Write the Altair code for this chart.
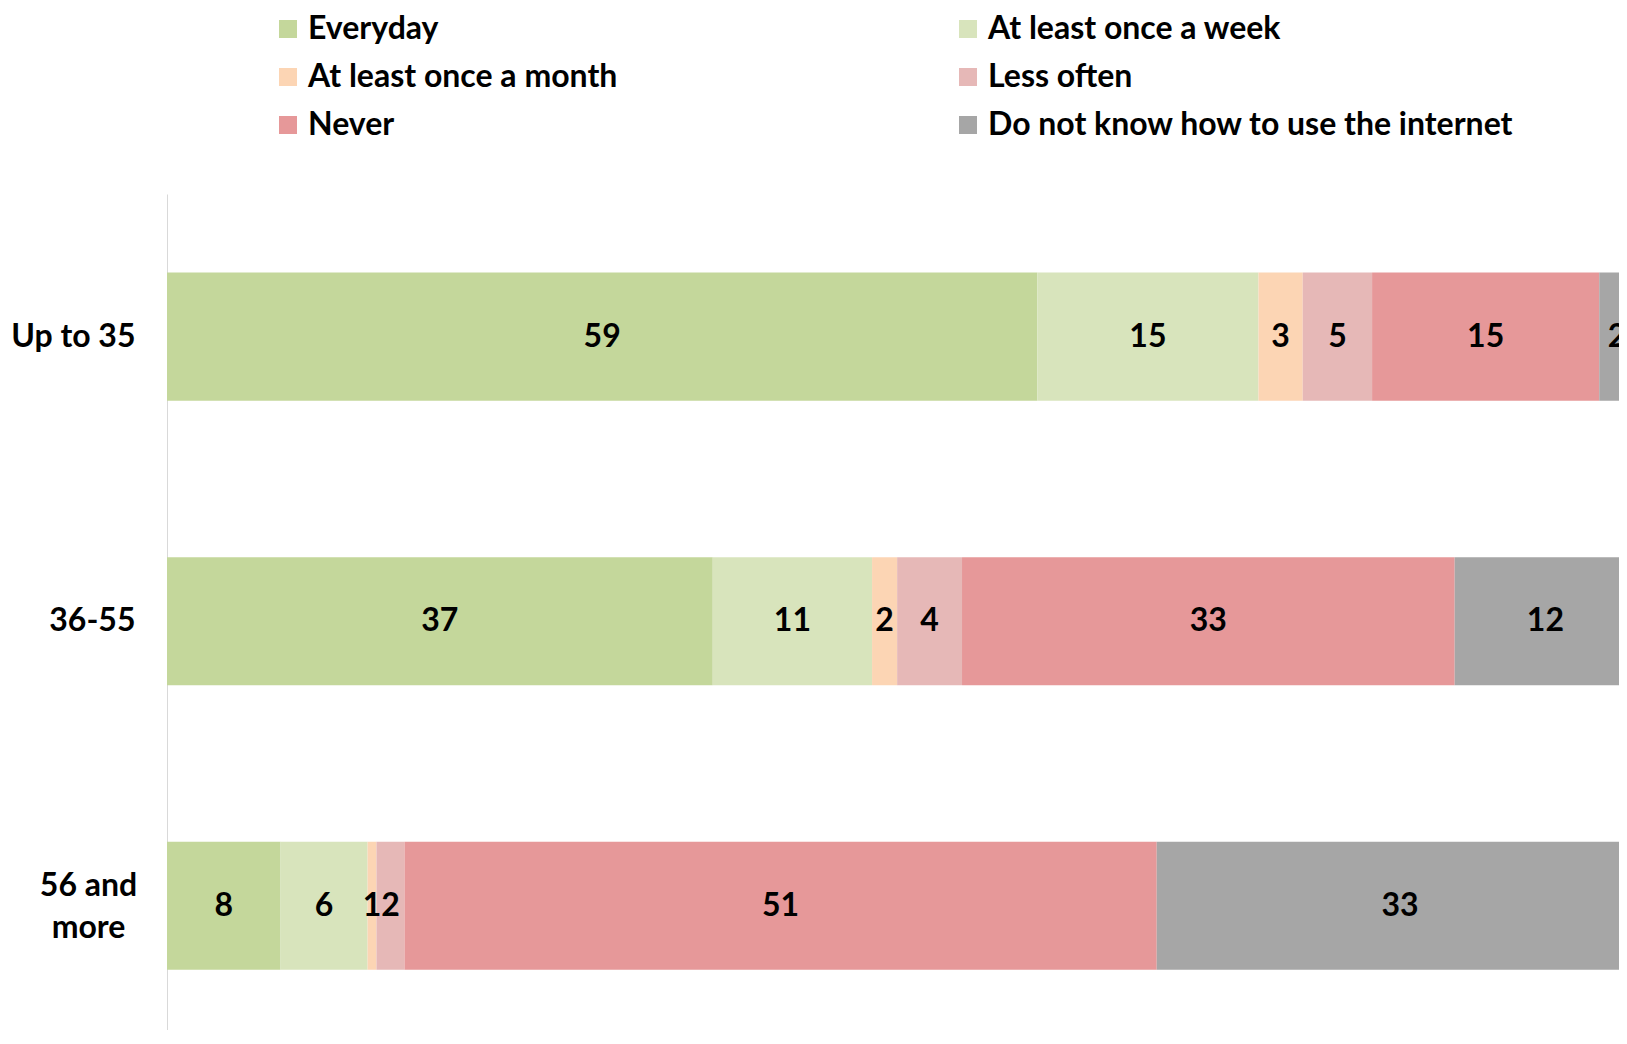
import altair as alt
import pandas as pd

groups = ["Up to 35", "36-55", "56 and more"]
categories = [
    "Everyday",
    "At least once a week",
    "At least once a month",
    "Less often",
    "Never",
    "Do not know how to use the internet",
]
colors = ["#C4D79B", "#D8E4BC", "#FCD5B4", "#E6B8B7", "#E69899", "#A6A6A6"]

up_to_35 = [59.0, 15.0, 3.0, 4.7, 15.4, 2.4]
age_36_55 = [37.0, 10.8, 1.7, 4.4, 33.4, 12.3]
age_56_more = [7.7, 5.9, 0.6, 1.9, 51.0, 33.0]

series = [up_to_35, age_36_55, age_56_more]
rows = []
for g, vals in zip(groups, series):
    for i, (c, v) in enumerate(zip(categories, vals)):
        rows.append({"group": g, "category": c, "order": i, "value": v})
df = pd.DataFrame(rows)

# legend fills column by column: reorder so it reads row by row
legend_idx = [0, 2, 4, 1, 3, 5]
legend_domain = [categories[i] for i in legend_idx]
legend_range = [colors[i] for i in legend_idx]

FONT = "Lato"
FS = 32
TWO_LINE = "datum.value == '56 and more'"

base = (
    alt.Chart(df)
    .transform_stack(
        stack="value",
        groupby=["group"],
        as_=["x0", "x1"],
        sort=[alt.SortField("order", order="ascending")],
    )
    .transform_calculate(mid="(datum.x0 + datum.x1) / 2")
)

y_scale = alt.Scale(paddingInner=0.55, paddingOuter=0.244, align=0.566)

y_enc = alt.Y(
    "group:N",
    sort=groups,
    scale=y_scale,
    axis=alt.Axis(
        title=None,
        labelFont=FONT,
        labelFontSize=FS,
        labelFontWeight="bold",
        labelColor="black",
        labelPadding={"condition": {"test": TWO_LINE, "value": 79}, "value": 32},
        labelAlign={"condition": {"test": TWO_LINE, "value": "center"}, "value": "right"},
        labelOffset={"condition": {"test": TWO_LINE, "value": -20}, "value": 0},
        labelLimit=0,
        labelLineHeight=42,
        ticks=False,
        grid=False,
        domainColor="#D9D9D9",
        domainWidth=1,
        minExtent=159,
        maxExtent=159,
        labelExpr="datum.value == '56 and more' ? ['56 and', 'more'] : datum.value",
    ),
)

x_scale = alt.Scale(domain=[0, 98.44], nice=False, zero=True)

bars = base.mark_bar(clip=True).encode(
    y=y_enc,
    x=alt.X("x0:Q", scale=x_scale, axis=None),
    x2="x1:Q",
    color=alt.Color(
        "category:N",
        scale=alt.Scale(domain=legend_domain, range=legend_range),
        legend=alt.Legend(
            title=None,
            orient="none",
            legendX=100,
            legendY=-186,
            padding=5,
            columns=2,
            columnPadding=334,
            rowPadding=16,
            symbolType="square",
            symbolSize=324,
            symbolStrokeWidth=0,
            labelFont=FONT,
            labelFontSize=FS,
            labelFontWeight="bold",
            labelColor="black",
            labelLimit=0,
            labelOffset=4,
        ),
    ),
)

text = base.mark_text(
    font=FONT, fontSize=FS, fontWeight="bold", color="black",
    align="center", baseline="middle", clip=True,
).encode(
    y=alt.Y("group:N", sort=groups),
    x=alt.X("mid:Q"),
    text=alt.Text("value:Q", format=".0f"),
)

chart = (
    alt.layer(bars, text)
    .properties(width=1452, height=836, padding=0)
    .configure_view(stroke=None)
)

chart.save("out.html", embed_options={"renderer": "svg", "actions": False})
